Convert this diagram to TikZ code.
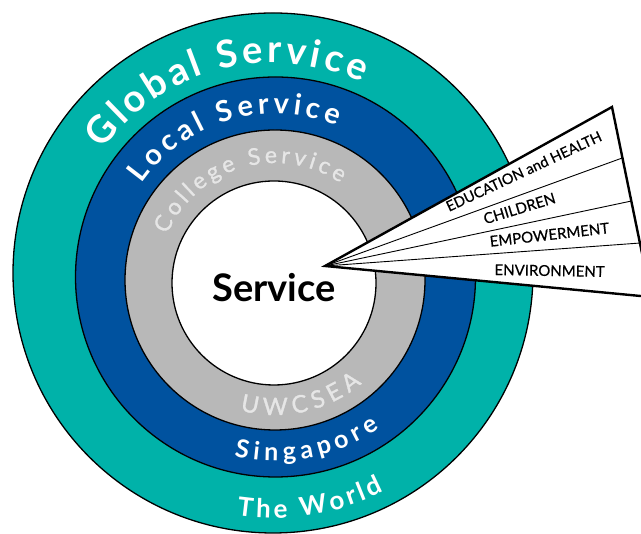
\documentclass[tikz,border=0pt]{standalone}
\usepackage{fontspec}
\newfontfamily\lato{Lato}
\newfontfamily\latomed[FakeBold=1.2]{Lato}
\newfontfamily\latofan[FakeBold=0.5]{Lato}
\usetikzlibrary{decorations.text,calc}
\definecolor{ringteal}{RGB}{0,178,169}
\definecolor{ringblue}{RGB}{0,82,159}
\definecolor{ringgray}{RGB}{184,184,184}
\definecolor{paletext}{RGB}{230,230,230}
\begin{document}
\begin{tikzpicture}[x=1pt,y=1pt,
  ring/.style={draw=black, line width=1.3pt},
  arctext/.style={decorate, decoration={text along path, text align=fit to path, text={#1}}},
  fanlabel/.style={font=\latofan\fontsize{15}{15}\selectfont, anchor=base, inner sep=0pt},
  centrelabel/.style={font=\lato\bfseries\fontsize{38}{38}\selectfont, anchor=base, inner sep=0pt},
]
\useasboundingbox (0,0) rectangle (641,534);
% ring centres
\coordinate (cT) at (273,261);
\coordinate (cB) at (275.5,257);
\coordinate (cG) at (275,254);
\coordinate (cW) at (274,251);
% rings
\node[ring, circle, fill=ringteal, minimum size=520pt, inner sep=0pt] (teal) at (cT) {};
\node[ring, circle, fill=ringblue, minimum size=400pt, inner sep=0pt] (blue) at (cB) {};
\node[ring, circle, fill=ringgray, minimum size=300pt, inner sep=0pt] (gray) at (cG) {};
\node[ring, circle, fill=white, minimum size=204pt, inner sep=0pt] (core) at (cW) {};
% curved texts, top
\path[arctext={|\lato\bfseries\fontsize{38}{40}\selectfont\color{white}|Global Service}]
  ($(cT)+(144:210pt)$) arc[start angle=144, end angle=65, radius=210pt];
\path[arctext={|\lato\bfseries\fontsize{29}{30}\selectfont\color{white}|Local Service}]
  ($(cB)+(145:163pt)$) arc[start angle=145, end angle=68, radius=163pt];
\path[arctext={|\latomed\fontsize{23}{24}\selectfont\color{paletext}|College Service}]
  ($(cG)+(157:117pt)$) arc[start angle=157, end angle=56, radius=117pt];
% curved texts, bottom
\path[arctext={|\latomed\fontsize{24}{24}\selectfont\color{paletext}|UWCSEA}]
  ($(cG)+(255:135pt)$) arc[start angle=255, end angle=310, radius=135pt];
\path[arctext={|\lato\bfseries\fontsize{25}{25}\selectfont\color{white}|Singapore}]
  ($(cB)+(257:184pt)$) arc[start angle=257, end angle=304.5, radius=184pt];
\path[arctext={|\lato\bfseries\fontsize{26}{26}\selectfont\color{white}|The World}]
  ($(cT)+(261.5:245pt)$) arc[start angle=261.5, end angle=297, radius=245pt];
% centre
\node[centrelabel] (service) at (274,232) {Service};
% fan
\coordinate (apex) at (325,268);
\coordinate (fanT) at (612,427);
\coordinate (fanB) at (651,237);
\coordinate (d1) at ($(fanT)!0.268!(fanB)$);
\coordinate (d2) at ($(fanT)!0.495!(fanB)$);
\coordinate (d3) at ($(fanT)!0.716!(fanB)$);
\draw[fill=white, line width=2.4pt, line join=miter] (apex) -- (fanT) -- (fanB) -- cycle;
\draw[line width=0.9pt] (apex) -- (d1);
\draw[line width=0.9pt] (apex) -- (d2);
\draw[line width=0.9pt] (apex) -- (d3);
\node[fanlabel, font=\latofan\fontsize{14.5}{15}\selectfont, rotate=25] (edu) at (526,358) {EDUCATION and HEALTH};
\node[fanlabel, rotate=17] (chi) at (521,320.5) {CHILDREN};
\node[fanlabel, rotate=6.5] (emp) at (550,294) {EMPOWERMENT};
\node[fanlabel, rotate=-1] (env) at (549.5,258) {ENVIRONMENT};
\end{tikzpicture}
\end{document}
